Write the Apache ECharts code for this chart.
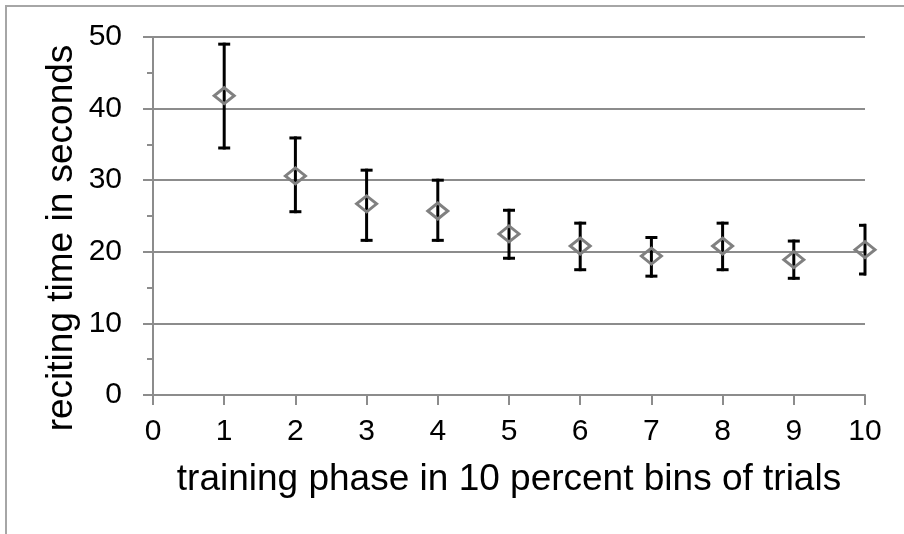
<!DOCTYPE html>
<html>
<head>
<meta charset="utf-8">
<script src="https://cdn.jsdelivr.net/npm/echarts@6/dist/echarts.min.js"></script>
<style>
  html, body { margin: 0; padding: 0; background: #fff; }
  #chart { width: 904px; height: 534px; }
</style>
</head>
<body>
<div id="chart"></div>
<script>
// ---- data ----
const phases = [1, 2, 3, 4, 5, 6, 7, 8, 9, 10];
const meanTime = [41.8, 30.6, 26.7, 25.7, 22.5, 20.8, 19.4, 20.8, 18.9, 20.3];
const upperTime = [49.0, 35.9, 31.4, 30.0, 25.8, 24.0, 22.0, 24.0, 21.5, 23.7];
const lowerTime = [34.5, 25.6, 21.6, 21.6, 19.1, 17.5, 16.6, 17.5, 16.3, 16.9];
const xTitle = 'training phase in 10 percent bins of trials';
const yTitle = 'reciting time in seconds';

const font = '"Liberation Sans", Arial, sans-serif';
const gridGray = '#8c8c8c';

const chart = echarts.init(document.getElementById('chart'), null, { renderer: 'canvas' });

const meanData = phases.map((p, i) => [p, meanTime[i]]);
const errData = phases.map((p, i) => [p, upperTime[i], lowerTime[i]]);

chart.setOption({
  animation: false,
  backgroundColor: '#ffffff',
  graphic: [{
    type: 'polyline',
    shape: { points: [[6, 540], [6, 6], [910, 6]] },
    style: { stroke: '#a6a6a6', lineWidth: 2, fill: null },
    silent: true
  }, {
    type: 'text',
    x: 62,
    y: 238,
    rotation: Math.PI / 2,
    silent: true,
    style: {
      text: yTitle,
      fontFamily: font,
      fontSize: 37,
      fill: '#000',
      align: 'center',
      verticalAlign: 'middle'
    }
  }],
  grid: { left: 153, right: 39, top: 37, bottom: 139, containLabel: false },
  xAxis: {
    type: 'value',
    min: 0, max: 10, interval: 1,
    name: xTitle,
    nameLocation: 'middle',
    nameGap: 66,
    nameTextStyle: { fontFamily: font, fontSize: 37, color: '#000' },
    axisLine: { show: true, onZero: false, lineStyle: { color: gridGray, width: 2 } },
    axisTick: { show: true, length: 10, lineStyle: { color: gridGray, width: 2 } },
    axisLabel: { fontFamily: font, fontSize: 30, color: '#000', margin: 22 },
    splitLine: { show: false }
  },
  yAxis: {
    type: 'value',
    min: 0, max: 50, interval: 10,
    axisLine: { show: true, lineStyle: { color: gridGray, width: 2 } },
    axisTick: { show: true, length: 10, lineStyle: { color: gridGray, width: 2 } },
    minorTick: { show: true, splitNumber: 2, length: 6, lineStyle: { color: gridGray, width: 2 } },
    axisLabel: { fontFamily: font, fontSize: 30, color: '#000', margin: 31 },
    splitLine: { show: true, lineStyle: { color: gridGray, width: 2 } }
  },
  series: [
    {
      type: 'custom',
      name: 'range',
      data: errData,
      z: 2,
      renderItem: function (params, api) {
        const x = api.value(0);
        const pHi = api.coord([x, api.value(1)]);
        const pLo = api.coord([x, api.value(2)]);
        const cs = params.coordSys;
        const rightEdge = cs.x + cs.width + 1;
        const hw = 6;
        const style = { stroke: '#000', lineWidth: 3, fill: null };
        return {
          type: 'group',
          children: [
            { type: 'line', shape: { x1: pHi[0], y1: pHi[1] - 1.5, x2: pLo[0], y2: pLo[1] + 1.5 }, style: style },
            { type: 'line', shape: { x1: pHi[0] - hw, y1: pHi[1], x2: Math.min(pHi[0] + hw, rightEdge), y2: pHi[1] }, style: style },
            { type: 'line', shape: { x1: pLo[0] - hw, y1: pLo[1], x2: Math.min(pLo[0] + hw, rightEdge), y2: pLo[1] }, style: style }
          ]
        };
      }
    },
    {
      type: 'scatter',
      name: 'mean',
      data: meanData,
      clip: false,
      z: 3,
      symbol: 'diamond',
      symbolSize: [20, 16],
      itemStyle: { color: 'rgba(255,255,255,0)', borderColor: '#808080', borderWidth: 3, opacity: 1 }
    }
  ]
});
</script>
</body>
</html>
